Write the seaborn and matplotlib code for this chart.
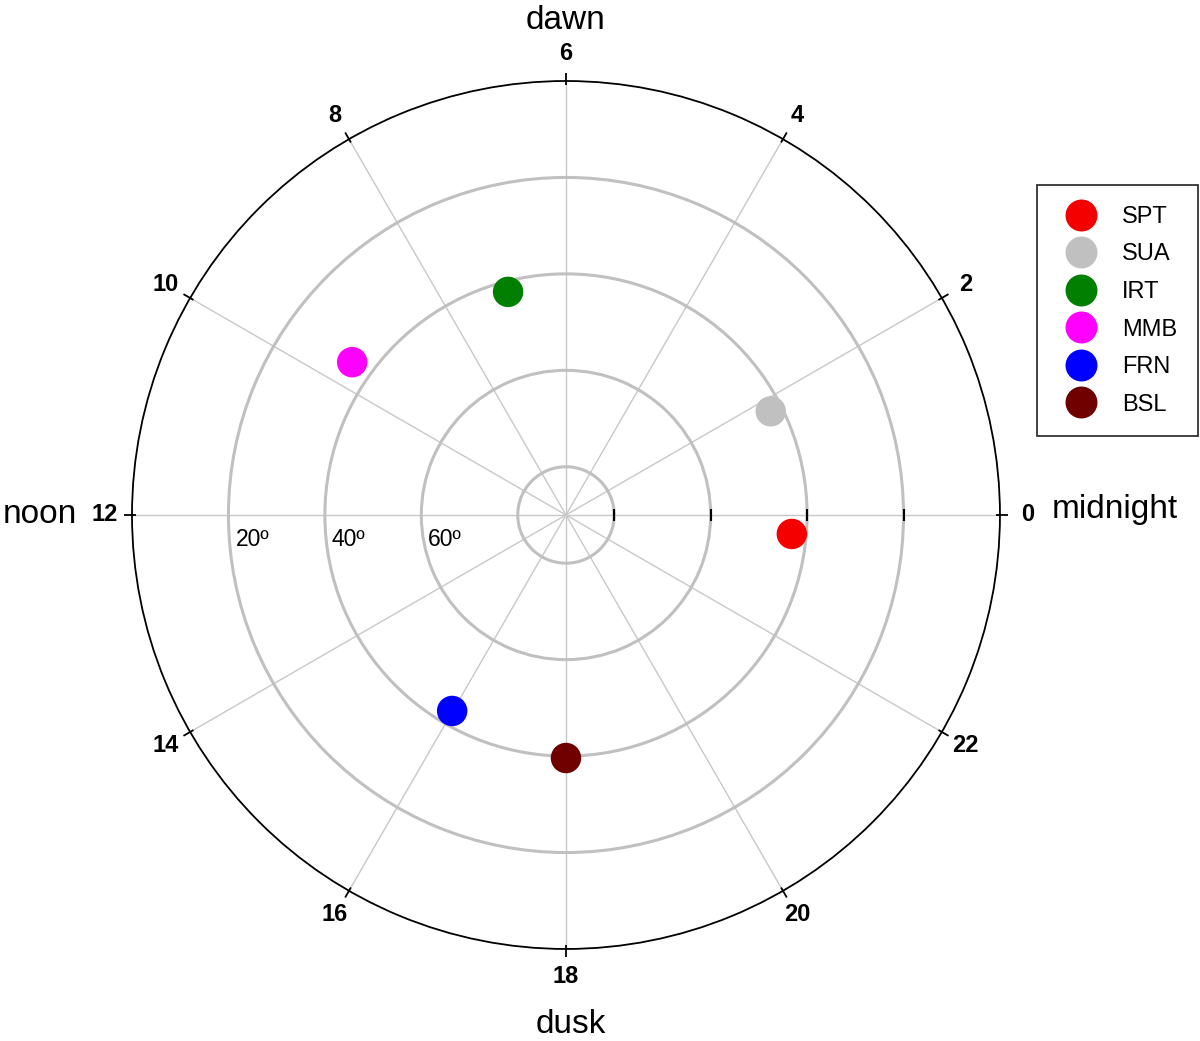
import numpy as np
import pandas as pd
import matplotlib
matplotlib.use("Agg")
import matplotlib.pyplot as plt
import matplotlib.transforms as mtransforms
import seaborn as sns

# станции, местное время (ч) и широта (град)
stations = ["SPT", "SUA", "IRT", "MMB", "FRN", "BSL"]
local_time = [23.68, 1.79, 6.97, 9.63, 15.99, 18.0]
latitude = [43.0, 42.4, 42.2, 35.5, 43.0, 39.6]
colors = ["#f50000", "#c0c0c0", "#007f00", "#ff00ff", "#0000ff", "#700000"]

hour_ticks = list(range(0, 24, 2))
lat_rings = [80, 60, 40, 20]
lat_labels = ["20º", "40º", "60º"]
lat_label_values = [20, 40, 60]

df = pd.DataFrame({
    "station": stations,
    "theta": np.deg2rad(np.array(local_time) * 15.0),
    "r": 90.0 - np.array(latitude),
})

sns.set_style("white")
plt.rcParams["font.family"] = ["Liberation Sans", "DejaVu Sans"]
plt.rcParams["text.color"] = "black"
plt.rcParams["xtick.color"] = "black"
plt.rcParams["ytick.color"] = "black"

fig = plt.figure(figsize=(12, 10.41), dpi=100)
ax = fig.add_axes([0.110, 0.0884, 0.7233, 0.8338], projection="polar")

sns.scatterplot(data=df, x="theta", y="r", hue="station", hue_order=stations,
                palette=dict(zip(stations, colors)), s=480, edgecolor="none",
                ax=ax, zorder=5, legend=True)

ax.set_ylim(0, 90)
ax.set_yticks([90 - v for v in lat_rings])
ax.set_yticklabels([])
theta_ticks = np.deg2rad(np.array(hour_ticks) * 15.0)
ax.set_xticks(theta_ticks)
ax.set_xticklabels([str(h) for h in hour_ticks], fontsize=17, fontweight="bold")
ax.tick_params(axis="x", pad=13, length=0, labelcolor="black")
ax.xaxis.grid(True, color="#c8c8c8", linewidth=1.0)
ax.yaxis.grid(True, color="#c0c0c0", linewidth=2.2)
ax.spines["polar"].set_color("black")
ax.spines["polar"].set_linewidth(1.3)
ax.set_xlabel("")
ax.set_ylabel("")

# штрихи на внешней окружности
ax.vlines(theta_ticks, 89.2, 91.6, color="black", linewidth=1.3, clip_on=False, zorder=6)

# штрихи на нулевом радиусе
ax.plot([0] * len(lat_rings), [90 - v for v in lat_rings], linestyle="none",
        marker="|", markersize=8, markeredgewidth=1.5, color="black", zorder=4)

# подписи широт
off = mtransforms.ScaledTranslation(0.07, -0.25, fig.dpi_scale_trans)
for lab, v in zip(lat_labels, lat_label_values):
    ax.text(np.pi, 90 - v, lab, ha="left", va="center", fontsize=16.5,
            color="black", transform=ax.transData + off)

# названия секторов
ax.text(1.1325, 0.506, "midnight", transform=ax.transAxes, ha="center", va="center", fontsize=24)
ax.text(0.5, 1.07, "dawn", transform=ax.transAxes, ha="center", va="center", fontsize=24)
ax.text(-0.106, 0.5, "noon", transform=ax.transAxes, ha="center", va="center", fontsize=24)
ax.text(0.506, -0.0876, "dusk", transform=ax.transAxes, ha="center", va="center", fontsize=24)

leg = ax.legend(loc="upper left", bbox_to_anchor=(0.864, 0.822),
                bbox_transform=fig.transFigure, fontsize=17, frameon=True,
                fancybox=False, edgecolor="black", borderpad=0.87,
                labelspacing=0.66, handletextpad=0.74, markerscale=1.05,
                borderaxespad=0)
leg.get_frame().set_linewidth(1.3)
for t in leg.get_texts():
    t.set_color("black")

fig.savefig("out.png", dpi=100)
